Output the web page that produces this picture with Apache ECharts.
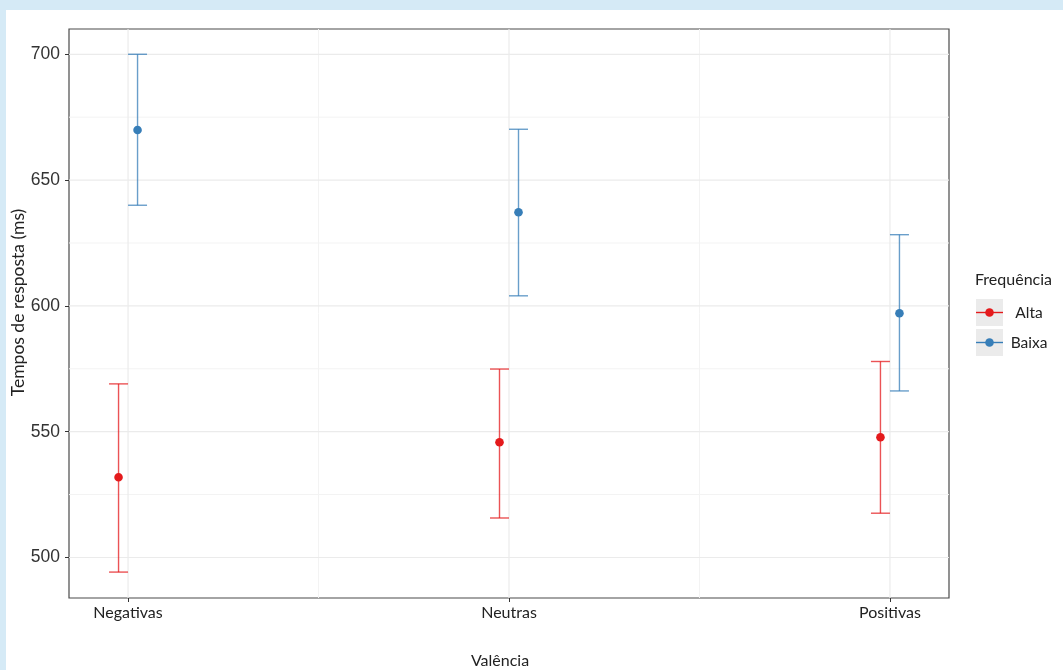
<!DOCTYPE html>
<html>
<head>
<meta charset="utf-8">
<script src="https://cdn.jsdelivr.net/npm/echarts@6/dist/echarts.min.js"></script>
<style>
  html, body { margin: 0; padding: 0; background: #d5eaf6; }
  #chart { position: absolute; left: 6px; top: 10px; width: 1057px; height: 660px; background: #ffffff; }
</style>
</head>
<body>
<div id="chart"></div>
<script>
// Mean response times with confidence intervals, by valence and word frequency
const categories = ['Negativas', 'Neutras', 'Positivas'];
const groups = ['Alta', 'Baixa'];
const groupColors = ['#e41a1c', '#377eb8'];

const altaMean = [531.9, 545.8, 547.8];
const altaLow  = [494.2, 515.7, 517.6];
const altaHigh = [569.0, 574.9, 577.9];

const baixaMean = [669.9, 637.2, 597.1];
const baixaLow  = [640.0, 604.0, 566.2];
const baixaHigh = [700.0, 670.2, 628.3];

const yTicks = [500, 550, 600, 650, 700];
const yMinor = [525, 575, 625, 675];
const xMinor = [1.5, 2.5];

const chart = echarts.init(document.getElementById('chart'));

// horizontal offset (px) applied to each group so the bars sit side by side
const dodgePx = [-9.5, 9.5];

function seriesRows(mean, low, high) {
  return categories.map((c, i) => [i + 1, mean[i], low[i], high[i]]);
}

function errorBarRender(gi) {
  return function (params, api) {
    const x = api.value(0);
    const pMean = api.coord([x, api.value(1)]);
    const pLow = api.coord([x, api.value(2)]);
    const pHigh = api.coord([x, api.value(3)]);
    const cx = pMean[0] + dodgePx[gi];
    const half = 9.5;
    const color = groupColors[gi];
    const lineStyle = { stroke: color, lineWidth: 1.4, opacity: 0.75 };
    return {
      type: 'group',
      children: [
        { type: 'line', shape: { x1: cx, y1: pLow[1], x2: cx, y2: pHigh[1] }, style: lineStyle },
        { type: 'line', shape: { x1: cx - half, y1: pLow[1], x2: cx + half, y2: pLow[1] }, style: lineStyle },
        { type: 'line', shape: { x1: cx - half, y1: pHigh[1], x2: cx + half, y2: pHigh[1] }, style: lineStyle },
        { type: 'circle', shape: { cx: cx, cy: pMean[1], r: 4.3 }, style: { fill: color } }
      ]
    };
  };
}

function hGridRender(color, width) {
  return function (params, api) {
    const cs = params.coordSys;
    const y = api.coord([1, api.value(0)])[1];
    return { type: 'line', shape: { x1: cs.x, y1: y, x2: cs.x + cs.width, y2: y }, style: { stroke: color, lineWidth: width } };
  };
}
function vGridRender(color, width) {
  return function (params, api) {
    const cs = params.coordSys;
    const x = api.coord([api.value(0), 600])[0];
    return { type: 'line', shape: { x1: x, y1: cs.y, x2: x, y2: cs.y + cs.height }, style: { stroke: color, lineWidth: width } };
  };
}

const legendX = 970, legendY = 262;
const legendGraphics = [
  { type: 'text', left: legendX - 1, top: legendY, style: { text: 'Frequência', font: '16px Lato', fill: '#222' } }
];
groups.forEach((g, gi) => {
  const top = legendY + 27 + gi * 30;
  legendGraphics.push(
    { type: 'rect', shape: { x: legendX, y: top, width: 27, height: 27 }, style: { fill: '#ebebeb' } },
    { type: 'line', shape: { x1: legendX, y1: top + 13.5, x2: legendX + 27, y2: top + 13.5 }, style: { stroke: groupColors[gi], lineWidth: 1.4 } },
    { type: 'circle', shape: { cx: legendX + 13.5, cy: top + 13.5, r: 4.3 }, style: { fill: groupColors[gi] } },
    { type: 'text', x: legendX + 53, y: top + 14, style: { text: g, font: '15.5px Lato', fill: '#222', align: 'center', verticalAlign: 'middle' } }
  );
});

chart.setOption({
  animation: false,
  grid: {
    left: 63, top: 19, right: 114, bottom: 72,
    outerBoundsMode: 'none', containLabel: false,
    show: true, borderColor: '#4a4a4a', borderWidth: 1.2, backgroundColor: 'transparent'
  },
  xAxis: {
    type: 'value', min: 0.845, max: 3.155,
    name: 'Valência', nameLocation: 'middle', nameGap: 55, nameMoveOverlap: false,
    nameTextStyle: { fontFamily: 'Lato', fontSize: 16, color: '#222', padding: [0, 18, 0, 0] },
    axisLine: { show: false },
    splitLine: { show: false },
    axisTick: { show: true, length: 4, lineStyle: { color: '#333' }, customValues: [1, 2, 3] },
    axisLabel: { customValues: [1, 2, 3], formatter: v => categories[Math.round(v) - 1] || '', fontFamily: 'Lato', fontSize: 16, color: '#222', margin: 7 }
  },
  yAxis: {
    type: 'value', min: 483.9, max: 710.05,
    name: 'Tempos de resposta (ms)', nameLocation: 'middle', nameGap: 42, nameRotate: 90, nameMoveOverlap: false,
    nameTextStyle: { fontFamily: 'Lato', fontSize: 17.5, color: '#222', padding: [0, 0, 0, 22] },
    axisLine: { show: false },
    splitLine: { show: false },
    axisTick: { show: true, length: 4, lineStyle: { color: '#333' }, customValues: yTicks },
    axisLabel: { customValues: yTicks, fontFamily: 'Liberation Sans', fontSize: 17.5, color: '#333', margin: 9 }
  },
  graphic: legendGraphics,
  series: [
    { type: 'custom', name: 'minorH', silent: true, z: 1, data: yMinor.map(v => [v]), renderItem: hGridRender('#f3f3f3', 1) },
    { type: 'custom', name: 'minorV', silent: true, z: 1, data: xMinor.map(v => [v]), renderItem: vGridRender('#f3f3f3', 1) },
    { type: 'custom', name: 'majorH', silent: true, z: 1, data: yTicks.map(v => [v]), renderItem: hGridRender('#ebebeb', 1.2) },
    { type: 'custom', name: 'majorV', silent: true, z: 1, data: [1, 2, 3].map(v => [v]), renderItem: vGridRender('#ebebeb', 1.2) },
    { type: 'custom', name: groups[0], z: 3, data: seriesRows(altaMean, altaLow, altaHigh), renderItem: errorBarRender(0) },
    { type: 'custom', name: groups[1], z: 3, data: seriesRows(baixaMean, baixaLow, baixaHigh), renderItem: errorBarRender(1) }
  ]
});
</script>
</body>
</html>
